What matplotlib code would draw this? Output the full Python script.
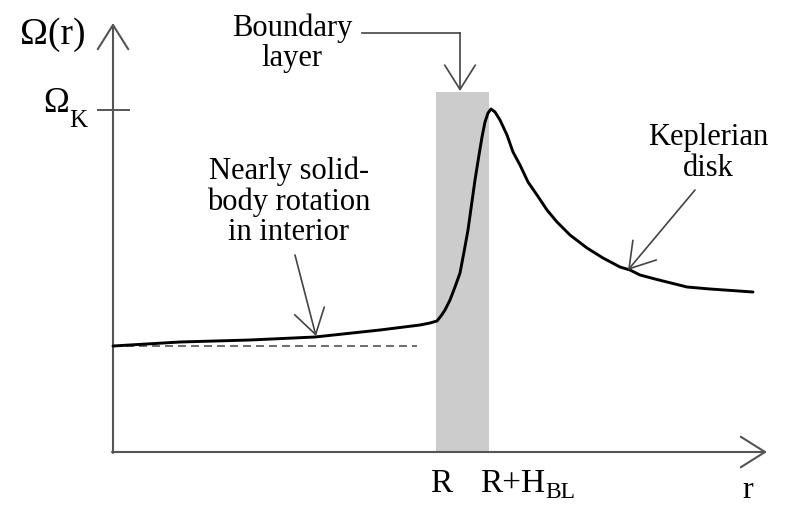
import numpy as np
import matplotlib.pyplot as plt

plt.rcParams['font.family'] = ['Liberation Serif', 'DejaVu Serif']

# Schematic angular velocity profile (arbitrary units, origin at the axes corner)
r_pts = [0, 67, 137, 202, 267, 307, 317, 324, 328, 332,
         337, 342, 347, 351, 355, 362, 366, 369, 372, 375,
         378, 382, 387, 394, 400, 407, 415, 424, 434, 444,
         457, 474, 490, 507, 517, 527, 542, 574, 597, 640]
omega_pts = [106, 110, 112, 115, 122, 127, 129, 131, 136, 142,
             152, 165, 179, 200, 222, 272, 297, 315, 330, 339,
             343, 340, 332, 317, 300, 287, 270, 257, 242, 230,
             217, 204, 194, 185, 182, 177, 173, 165, 163, 160]

omega_solid = 106          # solid-body level (dashed reference)
r_solid_end = 304
omega_k = 342              # Keplerian value at the stellar surface
R_star = 323               # stellar radius
H_bl = 53                  # boundary layer width

axis_color = '#555555'
note_color = '#444444'

fig = plt.figure(figsize=(7.87, 5.08), dpi=100)
ax = fig.add_axes([0, 0, 1, 1])
ax.set_xlim(-113, 674)
ax.set_ylim(-56, 452)
ax.axis('off')

# boundary layer band
ax.axvspan(R_star, R_star + H_bl, ymin=(0 + 56) / 508, ymax=(360 + 56) / 508,
           color='#cccccc', lw=0, zorder=1)

# axes with open arrow heads
head = '->,head_length=1.75,head_width=1.1'
ax.annotate('', xy=(654, 0), xytext=(-1, 0),
            arrowprops=dict(arrowstyle=head, color=axis_color, lw=1.5,
                            mutation_scale=10, shrinkA=0, shrinkB=0), zorder=2)
ax.annotate('', xy=(0, 429), xytext=(0, -1),
            arrowprops=dict(arrowstyle=head, color=axis_color, lw=1.5,
                            mutation_scale=10, shrinkA=0, shrinkB=0), zorder=2)
ax.plot([-15, 16], [omega_k, omega_k], color=axis_color, lw=1.4, zorder=2)

# dashed solid-body level and the rotation curve
ax.plot([0, r_solid_end], [omega_solid, omega_solid], color='#555555', lw=1.2,
        dashes=(4.8, 3.0), zorder=2)
ax.plot(r_pts, omega_pts, color='black', lw=2.1, solid_capstyle='round',
        solid_joinstyle='round', zorder=3)

# axis labels
ax.text(-60, 417, 'Ω(r)', fontsize=27, ha='center', va='center')
ax.text(-57, 348, 'Ω', fontsize=25, ha='center', va='center')
ax.text(-44, 331, 'K', fontsize=18, ha='left', va='center')
ax.text(328, -32, 'R', fontsize=24, ha='center', va='center')
ax.text(367, -32, 'R+H', fontsize=24, ha='left', va='center')
ax.text(432, -40, 'BL', fontsize=17, ha='left', va='center')
ax.text(635, -39, 'r', fontsize=23, ha='center', va='center')

# annotations
note = dict(arrowstyle=head, color=note_color, lw=1.2, mutation_scale=10,
            shrinkA=0, shrinkB=0)
ax.text(179, 409, 'Boundary\nlayer', fontsize=22, ha='center', va='center',
        linespacing=1.05)
ax.plot([249, 347], [419, 419], color=note_color, lw=1.2)
ax.annotate('', xy=(347, 361), xytext=(347, 419), arrowprops=note)

ax.text(176, 250, 'Nearly solid-\nbody rotation\nin interior', fontsize=22,
        ha='center', va='center', linespacing=1.05)
ax.annotate('', xy=(203, 116), xytext=(182, 197), arrowprops=note)

ax.text(595, 299, 'Keplerian\ndisk', fontsize=22, ha='center', va='center',
        linespacing=1.05)
ax.annotate('', xy=(515, 182), xytext=(582, 262), arrowprops=note)

fig.savefig('out.png', dpi=100)
